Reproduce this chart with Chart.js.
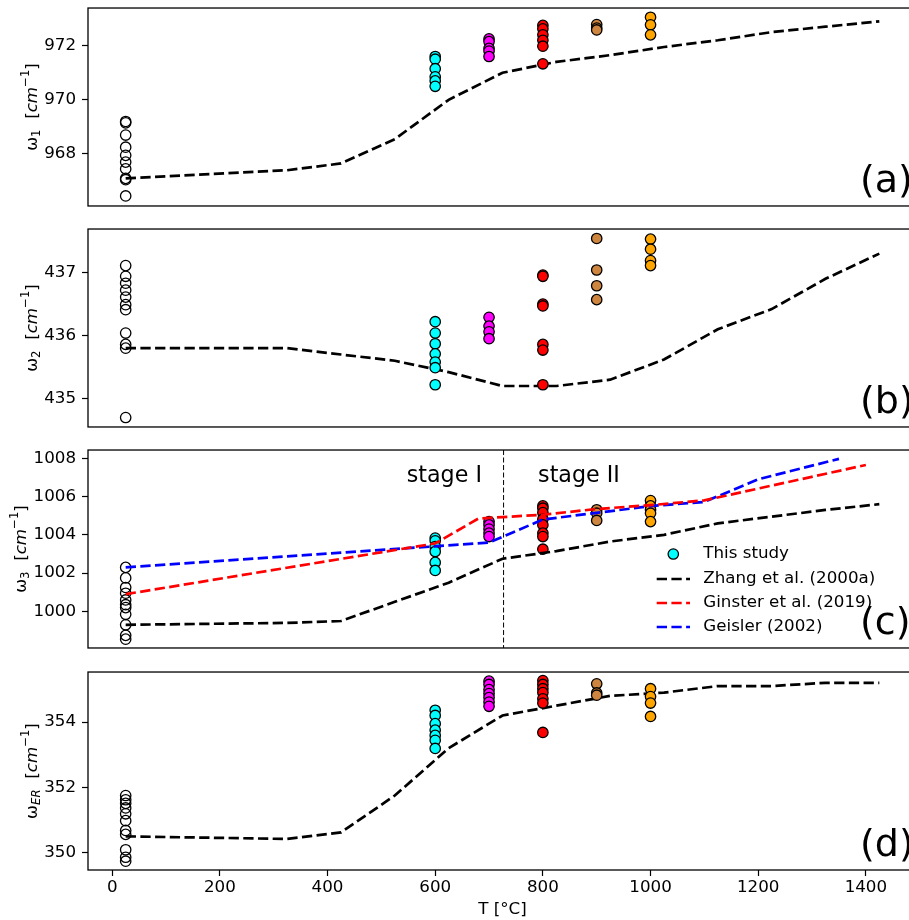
<!DOCTYPE html>
<html>
<head>
<meta charset="utf-8">
<script src="https://cdn.jsdelivr.net/npm/chart.js@4.4.1/dist/chart.umd.min.js"></script>
<style>
  html, body { margin: 0; padding: 0; background: #fff; overflow: hidden; }
  #fig { position: relative; width: 909px; height: 920px; overflow: hidden; background: #fff; }
  #fig canvas { position: absolute; left: 0; }
</style>
</head>
<body>
<div id="fig">
  <canvas id="pa"></canvas>
  <canvas id="pb"></canvas>
  <canvas id="pc"></canvas>
  <canvas id="pd"></canvas>
</div>
<script>
'use strict';

// Annealing temperatures (°C) of the measured series, 25 = unannealed
var temps = [25, 600, 700, 800, 900, 1000];

// This study: one list of band positions (cm-1) per temperature
var w1 = [
  [969.2, 969.15, 968.7, 968.25, 967.95, 967.7, 967.45, 967.1, 967.05, 966.45],
  [971.6, 971.5, 971.15, 970.85, 970.7, 970.5],
  [972.25, 972.15, 971.9, 971.8, 971.6],
  [972.75, 972.62, 972.4, 972.2, 971.98, 971.33],
  [972.78, 972.65, 972.58],
  [973.05, 972.77, 972.4]
];
var w2 = [
  [437.11, 436.94, 436.83, 436.72, 436.61, 436.49, 436.41, 436.04, 435.86, 435.8, 434.7],
  [436.22, 436.04, 435.87, 435.71, 435.58, 435.49, 435.22],
  [436.29, 436.15, 436.06, 435.95],
  [436.96, 436.94, 436.5, 436.47, 435.86, 435.77, 435.22],
  [437.54, 437.04, 436.79, 436.57],
  [437.53, 437.37, 437.19, 437.11]
];
var w3 = [
  [1002.3, 1001.75, 1001.25, 1000.95, 1000.6, 1000.35, 1000.2, 999.85, 999.3, 998.75, 998.55],
  [1003.83, 1003.69, 1003.39, 1003.13, 1002.56, 1002.14],
  [1004.69, 1004.52, 1004.3, 1004.09, 1003.91],
  [1005.51, 1005.39, 1005.16, 1004.82, 1004.52, 1004.09, 1003.91, 1003.25],
  [1005.31, 1005.13, 1004.75],
  [1005.79, 1005.51, 1005.31, 1005.13, 1004.69]
];
var wER = [
  [351.75, 351.62, 351.51, 351.37, 351.19, 350.98, 350.68, 350.56, 350.09, 349.86, 349.74],
  [354.36, 354.2, 353.95, 353.75, 353.59, 353.44, 353.19],
  [355.25, 355.15, 354.99, 354.87, 354.75, 354.61, 354.48],
  [355.27, 355.15, 355.02, 354.9, 354.71, 354.58, 353.68],
  [355.17, 354.89, 354.82],
  [355.02, 354.78, 354.58, 354.17]
];

// Literature curves
var zhangT = [25, 325, 425, 525, 625, 725, 825, 925, 1025, 1125, 1225, 1325, 1425];
var zhangW1 = [967.1, 967.4, 967.65, 968.55, 970.0, 971.0, 971.4, 971.65, 971.95, 972.2, 972.5, 972.7, 972.9];
var zhangW2 = [435.8, 435.8, 435.7, 435.6, 435.42, 435.2, 435.2, 435.3, 435.62, 436.1, 436.42, 436.9, 437.3];
var zhangW3 = [999.3, 999.4, 999.5, 1000.5, 1001.5, 1002.75, 1003.15, 1003.65, 1004.0, 1004.6, 1004.95, 1005.3, 1005.6];
var zhangWER = [350.5, 350.42, 350.62, 351.75, 353.2, 354.2, 354.5, 354.8, 354.9, 355.1, 355.1, 355.2, 355.2];
var ginsterT = [25, 600, 680, 800, 900, 1000, 1100, 1400];
var ginsterW3 = [1000.9, 1003.55, 1004.85, 1005.05, 1005.35, 1005.55, 1005.8, 1007.65];
var geislerT = [25, 600, 700, 800, 900, 1000, 1100, 1200, 1350];
var geislerW3 = [1002.3, 1003.4, 1003.6, 1004.8, 1005.15, 1005.5, 1005.72, 1006.9, 1007.97];

// Stage I / stage II boundary and annotation positions (°C, cm-1)
var stageBoundary = 727;
var stageLabels = ['stage I', 'stage II'];
var stageLabelT = [617, 867];
var stageLabelY = 1006.75;

// Axis ticks and limits
var xTicks = [0, 200, 400, 600, 800, 1000, 1200, 1400];
var xRange = [-45, 1495];
var yTicksA = [968, 970, 972];
var yTicksB = [435, 436, 437];
var yTicksC = [1000, 1002, 1004, 1006, 1008];
var yTicksD = [350, 352, 354];
var yRangeA = [966.08, 973.39];
var yRangeB = [434.55, 437.69];
var yRangeC = [998.09, 1008.43];
var yRangeD = [349.47, 355.53];

var legendLabels = ['This study', 'Zhang et al. (2000a)', 'Ginster et al. (2019)', 'Geisler (2002)'];

// Styles
var groupColors = ['rgba(0,0,0,0)', '#00ffff', '#ff00ff', '#ff0000', '#cd853f', '#ffa500'];
var FONT = '"DejaVu Sans", sans-serif';
var FS = 16.7;
var DASH = [10.3, 4.4];
var LW = 2.7;
var PR = 5.2;
var PAD = 16;

Chart.defaults.font.family = FONT;
Chart.defaults.color = '#000';

function scatterSets(values) {
  return values.map(function (list, i) {
    return {
      type: 'scatter',
      data: list.map(function (v) { return { x: temps[i], y: v }; }),
      backgroundColor: groupColors[i],
      borderColor: '#000',
      borderWidth: 1.3,
      pointRadius: PR,
      showLine: false
    };
  });
}

function dashed(xs, ys, color) {
  return {
    type: 'line',
    data: xs.map(function (x, i) { return { x: x, y: ys[i] }; }),
    borderColor: color,
    borderWidth: LW,
    borderDash: DASH,
    pointRadius: 0,
    fill: false,
    tension: 0
  };
}

function tickList(arr) {
  return function (s) { s.ticks = arr.map(function (v) { return { value: v }; }); };
}

var gridOpts = { drawOnChartArea: false, drawTicks: true, tickLength: 6, tickColor: '#000', tickWidth: 1.2 };

function makeY(range, ticks) {
  return {
    type: 'linear', position: 'left', min: range[0], max: range[1],
    afterFit: function (s) { s.width = 88; },
    afterBuildTicks: tickList(ticks),
    grid: gridOpts,
    border: { display: false },
    ticks: { padding: 6, autoSkip: false, font: { size: FS }, color: '#000',
      callback: function (v) { return String(v); } }
  };
}

function makeX(show) {
  return {
    type: 'linear', position: 'bottom', min: xRange[0], max: xRange[1], display: show,
    afterFit: function (s) { s.height = show ? 50 : 0; },
    afterBuildTicks: tickList(xTicks),
    grid: gridOpts,
    border: { display: false },
    ticks: { padding: 2, autoSkip: false, maxRotation: 0, font: { size: FS }, color: '#000',
      callback: function (v) { return String(v); } },
    title: { display: show, text: 'T [°C]', font: { size: FS }, color: '#000', padding: 0 }
  };
}

// rotated y label: omega with subscript, then [cm^-1]
function drawYLabel(ctx, cx, cy, sub, subItalic) {
  var small = FS * 0.7;
  var parts = [
    { t: 'ω', font: FS + 'px ' + FONT, dy: 0 },
    { t: sub, font: (subItalic ? 'italic ' : '') + small + 'px ' + FONT, dy: 0.22 * FS },
    { t: '  [', font: FS + 'px ' + FONT, dy: 0 },
    { t: 'cm', font: 'italic ' + FS + 'px ' + FONT, dy: 0 },
    { t: '−1', font: small + 'px ' + FONT, dy: -0.42 * FS },
    { t: ']', font: FS + 'px ' + FONT, dy: 0 }
  ];
  ctx.save();
  ctx.translate(cx, cy);
  ctx.rotate(-Math.PI / 2);
  ctx.fillStyle = '#000';
  ctx.textBaseline = 'alphabetic';
  ctx.textAlign = 'left';
  var total = 0;
  parts.forEach(function (p) { ctx.font = p.font; p.w = ctx.measureText(p.t).width; total += p.w; });
  var x = -total / 2;
  parts.forEach(function (p) {
    ctx.font = p.font;
    ctx.fillText(p.t, x, 0.3 * FS + p.dy);
    x += p.w;
  });
  ctx.restore();
}

function drawLegend(chart) {
  var ctx = chart.ctx, top = chart.chartArea.top;
  var rows = [104, 129, 153, 177];
  var lineColors = ['#000', '#ff0000', '#0000ff'];
  ctx.save();
  ctx.font = FS + 'px ' + FONT;
  ctx.textBaseline = 'middle';
  ctx.textAlign = 'left';
  legendLabels.forEach(function (label, i) {
    var y = top + rows[i];
    if (i === 0) {
      ctx.beginPath();
      ctx.arc(673.3, y, PR, 0, Math.PI * 2);
      ctx.fillStyle = groupColors[1];
      ctx.fill();
      ctx.lineWidth = 1.3;
      ctx.strokeStyle = '#000';
      ctx.stroke();
    } else {
      ctx.beginPath();
      ctx.setLineDash(DASH);
      ctx.lineWidth = LW;
      ctx.strokeStyle = lineColors[i - 1];
      ctx.moveTo(656.7, y);
      ctx.lineTo(690, y);
      ctx.stroke();
      ctx.setLineDash([]);
    }
    ctx.fillStyle = '#000';
    ctx.fillText(label, 703.3, y);
  });
  ctx.restore();
}

var panelDecor = {
  id: 'panelDecor',
  beforeDatasetsDraw: function (chart, args, o) {
    if (!o.stages) return;
    var ctx = chart.ctx, a = chart.chartArea;
    var x = chart.scales.x.getPixelForValue(stageBoundary);
    ctx.save();
    ctx.strokeStyle = '#000';
    ctx.lineWidth = 1;
    ctx.setLineDash([5, 2.5]);
    ctx.beginPath();
    ctx.moveTo(x, a.top);
    ctx.lineTo(x, a.bottom);
    ctx.stroke();
    ctx.restore();
  },
  afterDraw: function (chart, args, o) {
    var ctx = chart.ctx, a = chart.chartArea;
    ctx.save();
    ctx.strokeStyle = '#000';
    ctx.lineWidth = 1.3;
    ctx.strokeRect(a.left, a.top, a.right - a.left, a.bottom - a.top);
    ctx.fillStyle = '#000';
    ctx.font = '38px ' + FONT;
    ctx.textAlign = 'left';
    ctx.textBaseline = 'alphabetic';
    ctx.fillText(o.letter, 860, a.bottom - 14);
    if (o.stages) {
      ctx.font = '22.2px ' + FONT;
      ctx.textAlign = 'center';
      stageLabels.forEach(function (s, i) {
        ctx.fillText(s, chart.scales.x.getPixelForValue(stageLabelT[i]),
          chart.scales.y.getPixelForValue(stageLabelY));
      });
    }
    ctx.restore();
    drawYLabel(ctx, o.labelX, (a.top + a.bottom) / 2, o.sub, o.subItalic);
    if (o.stages) drawLegend(chart);
  }
};

function makePanel(id, top, height, datasets, yScale, showX, decor) {
  var canvas = document.getElementById(id);
  canvas.width = 930;
  canvas.height = height;
  canvas.style.width = '930px';
  canvas.style.height = height + 'px';
  canvas.style.top = top + 'px';
  return new Chart(canvas.getContext('2d'), {
    type: 'scatter',
    data: { datasets: datasets },
    options: {
      responsive: false,
      animation: false,
      events: [],
      layout: { padding: { top: PAD, bottom: showX ? 0 : PAD, left: 0, right: 13 } },
      scales: { x: makeX(showX), y: yScale },
      plugins: { legend: { display: false }, tooltip: { enabled: false }, panelDecor: decor }
    },
    plugins: [panelDecor]
  });
}

// plot areas are 198 px tall, starting at y = 8, 229, 450, 672
makePanel('pa', 8 - PAD, 198 + 2 * PAD,
  scatterSets(w1).concat([dashed(zhangT, zhangW1, '#000')]),
  makeY(yRangeA, yTicksA), false,
  { letter: '(a)', sub: '1', subItalic: false, labelX: 31.5 });

makePanel('pb', 229 - PAD, 198 + 2 * PAD,
  scatterSets(w2).concat([dashed(zhangT, zhangW2, '#000')]),
  makeY(yRangeB, yTicksB), false,
  { letter: '(b)', sub: '2', subItalic: false, labelX: 31.5 });

makePanel('pc', 450 - PAD, 198 + 2 * PAD,
  [dashed(zhangT, zhangW3, '#000'), dashed(ginsterT, ginsterW3, '#ff0000'), dashed(geislerT, geislerW3, '#0000ff')]
    .concat(scatterSets(w3)),
  makeY(yRangeC, yTicksC), false,
  { letter: '(c)', sub: '3', subItalic: false, labelX: 20.5, stages: true });

makePanel('pd', 672 - PAD, 920 - 672 + PAD,
  scatterSets(wER).concat([dashed(zhangT, zhangWER, '#000')]),
  makeY(yRangeD, yTicksD), true,
  { letter: '(d)', sub: 'ER', subItalic: true, labelX: 31.5 });
</script>
</body>
</html>
